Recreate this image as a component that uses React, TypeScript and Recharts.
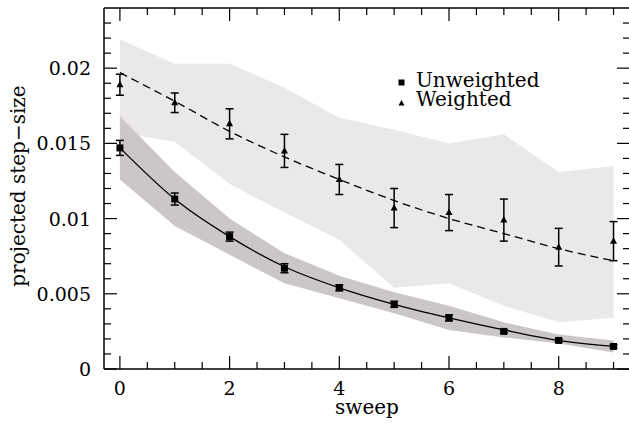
import React from "react";
import { ComposedChart, Area, Line, Scatter, ErrorBar, XAxis, YAxis, Legend } from "recharts";

const FONT = "DejaVu Serif";

const sweeps = [0, 1, 2, 3, 4, 5, 6, 7, 8, 9];

const unweighted = [0.0147, 0.0113, 0.0088, 0.0067, 0.0054, 0.0043, 0.0034, 0.0025, 0.0019, 0.0015];
const unweightedErr = [0.0005, 0.0004, 0.0003, 0.0003, 0.0002, 0.0002, 0.0002, 0.0001, 0.0001, 0.0001];
const unweightedFit = [0.0147, 0.0113, 0.0088, 0.0068, 0.0054, 0.0043, 0.0034, 0.0026, 0.0019, 0.0015];
const unweightedLow = [0.0126, 0.0095, 0.0076, 0.0057, 0.0047, 0.0037, 0.0026, 0.0021, 0.0017, 0.0011];
const unweightedHigh = [0.0168, 0.0131, 0.01, 0.0077, 0.0062, 0.0051, 0.0042, 0.0031, 0.0023, 0.0019];

const weighted = [0.0189, 0.0177, 0.0163, 0.0145, 0.0126, 0.0107, 0.0104, 0.0099, 0.0081, 0.0085];
const weightedErr = [0.0007, 0.00065, 0.001, 0.0011, 0.001, 0.0013, 0.0012, 0.0014, 0.00125, 0.0013];
const weightedFit = [0.0197, 0.0178, 0.0158, 0.0141, 0.0126, 0.0112, 0.01, 0.009, 0.008, 0.0072];
const weightedLow = [0.0157, 0.0151, 0.0123, 0.0104, 0.0086, 0.0054, 0.0057, 0.0042, 0.0031, 0.0034];
const weightedHigh = [0.0219, 0.0203, 0.0203, 0.0187, 0.0167, 0.0159, 0.015, 0.0156, 0.0131, 0.0135];

const xTicks = [0, 0.5, 1, 1.5, 2, 2.5, 3, 3.5, 4, 4.5, 5, 5.5, 6, 6.5, 7, 7.5, 8, 8.5, 9];
const xLabelTicks = [0, 2, 4, 6, 8];
const yTicks = [
  0, 0.001, 0.002, 0.003, 0.004, 0.005, 0.006, 0.007, 0.008, 0.009, 0.01, 0.011, 0.012,
  0.013, 0.014, 0.015, 0.016, 0.017, 0.018, 0.019, 0.02, 0.021, 0.022, 0.023,
];
const yLabelTicks = [0, 0.005, 0.01, 0.015, 0.02];

const xDomain = [-0.29, 9.3];
const yDomain = [0, 0.024];

const rows = sweeps.map((s, i) => ({
  sweep: s,
  unw: unweighted[i],
  unwErr: unweightedErr[i],
  unwFit: unweightedFit[i],
  unwBand: [unweightedLow[i], unweightedHigh[i]],
  w: weighted[i],
  wErr: weightedErr[i],
  wFit: weightedFit[i],
  wBand: [weightedLow[i], weightedHigh[i]],
}));

const isMajor = (list: number[], v: number) => list.some((t) => Math.abs(t - v) < 1e-9);

const LeftTick = ({ x, y, payload }: any) => {
  const major = isMajor(yLabelTicks, payload.value);
  return (
    <g>
      <line x1={x} x2={x + (major ? 13 : 7)} y1={y} y2={y} stroke="#000" strokeWidth={1.2} />
      {major && (
        <text x={x - 13} y={y} dy={7} textAnchor="end" fontFamily={FONT} fontSize={19} fill="#000">
          {String(payload.value)}
        </text>
      )}
    </g>
  );
};

const RightTick = ({ x, y, payload }: any) => {
  const major = isMajor(yLabelTicks, payload.value);
  return <line x1={x} x2={x - (major ? 13 : 7)} y1={y} y2={y} stroke="#000" strokeWidth={1.2} />;
};

const BottomTick = ({ x, y, payload }: any) => {
  const major = isMajor(xLabelTicks, payload.value);
  return (
    <g>
      <line x1={x} x2={x} y1={y} y2={y - (major ? 13 : 7)} stroke="#000" strokeWidth={1.2} />
      {major && (
        <text x={x} y={y} dy={26} textAnchor="middle" fontFamily={FONT} fontSize={19} fill="#000">
          {String(payload.value)}
        </text>
      )}
    </g>
  );
};

const TopTick = ({ x, y, payload }: any) => {
  const major = isMajor(xLabelTicks, payload.value);
  return <line x1={x} x2={x} y1={y} y2={y + (major ? 13 : 7)} stroke="#000" strokeWidth={1.2} />;
};

const YTitle = () => (
  <text
    x={25}
    y={186}
    transform="rotate(-90 25 186)"
    textAnchor="middle"
    fontFamily={FONT}
    fontSize={20}
    fill="#000"
  >
    projected step−size
  </text>
);

const XTitle = () => (
  <text x={367} y={414} textAnchor="middle" fontFamily={FONT} fontSize={20} fill="#000">
    sweep
  </text>
);

const Square = (p: any) => <rect x={p.cx - 3.5} y={p.cy - 3.5} width={7} height={7} fill="#000" />;
const Triangle = (p: any) => (
  <path d={`M${p.cx},${p.cy - 4} L${p.cx + 3.5},${p.cy + 2.5} L${p.cx - 3.5},${p.cy + 2.5} Z`} fill="#000" />
);

const LegendBox = () => (
  <svg width={160} height={50}>
    <rect x={8.5} y={14.5} width={6} height={6} fill="#000" />
    <text x={26} y={22} fontFamily={FONT} fontSize={20} fill="#000">
      Unweighted
    </text>
    <path d="M11.5,35 L14.5,40.5 L8.5,40.5 Z" fill="#000" />
    <text x={26} y={41} fontFamily={FONT} fontSize={20} fill="#000">
      Weighted
    </text>
  </svg>
);

export default function App() {
  return (
    <div
      style={{
        position: "absolute",
        left: 0,
        top: 0,
        width: 629,
        height: 423,
        overflow: "hidden",
        background: "#fff",
      }}
    >
      <ComposedChart width={631} height={423} data={rows} margin={{ top: 7, right: 0, bottom: 0, left: 0 }}>
        <XAxis
          dataKey="sweep"
          type="number"
          domain={xDomain}
          allowDataOverflow
          ticks={xTicks}
          interval={0}
          tick={<BottomTick />}
          tickLine={false}
          tickSize={0}
          tickMargin={0}
          height={54}
          axisLine={{ stroke: "#000", strokeWidth: 1.5 }}
          label={<XTitle />}
        />
        <XAxis
          xAxisId="top"
          dataKey="sweep"
          orientation="top"
          type="number"
          domain={xDomain}
          allowDataOverflow
          ticks={xTicks}
          interval={0}
          tick={<TopTick />}
          tickLine={false}
          tickSize={0}
          tickMargin={0}
          height={1}
          axisLine={{ stroke: "#000", strokeWidth: 1.5 }}
        />
        <YAxis
          type="number"
          domain={yDomain}
          allowDataOverflow
          ticks={yTicks}
          interval={0}
          tick={<LeftTick />}
          tickLine={false}
          tickSize={0}
          tickMargin={0}
          width={104}
          axisLine={{ stroke: "#000", strokeWidth: 1.5 }}
          label={<YTitle />}
        />
        <YAxis
          yAxisId="right"
          orientation="right"
          type="number"
          domain={yDomain}
          allowDataOverflow
          ticks={yTicks}
          interval={0}
          tick={<RightTick />}
          tickLine={false}
          tickSize={0}
          tickMargin={0}
          width={1}
          axisLine={{ stroke: "#000", strokeWidth: 1.5 }}
        />
        <Area
          xAxisId="top"
          yAxisId="right"
          dataKey="wBand"
          type="linear"
          fill="#ebe8e8"
          fillOpacity={1}
          stroke="none"
          isAnimationActive={false}
        />
        <Area dataKey="unwBand" type="linear" fill="#cbc7c7" fillOpacity={1} stroke="none" isAnimationActive={false} />
        <Line
          dataKey="unwFit"
          type="monotone"
          stroke="#000"
          strokeWidth={1.3}
          dot={false}
          activeDot={false}
          isAnimationActive={false}
        />
        <Line
          dataKey="wFit"
          type="monotone"
          stroke="#000"
          strokeWidth={1.3}
          strokeDasharray="8 5"
          dot={false}
          activeDot={false}
          isAnimationActive={false}
        />
        <Scatter dataKey="unw" shape={Square} isAnimationActive={false}>
          <ErrorBar dataKey="unwErr" direction="y" width={4} stroke="#000" strokeWidth={1.5} isAnimationActive={false} />
        </Scatter>
        <Scatter dataKey="w" shape={Triangle} isAnimationActive={false}>
          <ErrorBar dataKey="wErr" direction="y" width={4} stroke="#000" strokeWidth={1.5} isAnimationActive={false} />
        </Scatter>
        <Legend
          layout="horizontal"
          verticalAlign="middle"
          align="center"
          content={<LegendBox />}
          wrapperStyle={{ left: 390, top: 65, width: 160, height: 50 }}
        />
      </ComposedChart>
    </div>
  );
}
